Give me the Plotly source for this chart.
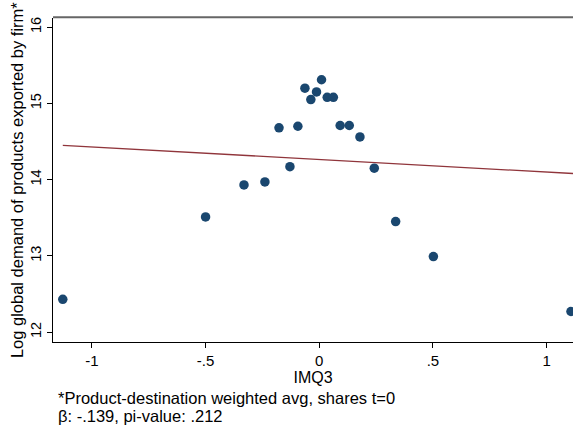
import plotly.graph_objects as go

# binned means (binscatter, 20 bins)
imq3 = [-1.128, -0.500, -0.331, -0.239, -0.177, -0.129, -0.094, -0.063, -0.037, -0.012,
        0.010, 0.035, 0.062, 0.092, 0.132, 0.179, 0.242, 0.336, 0.502, 1.107]
log_demand = [12.43, 13.51, 13.93, 13.97, 14.68, 14.17, 14.70, 15.20, 15.05, 15.15,
              15.31, 15.08, 15.08, 14.71, 14.71, 14.56, 14.15, 13.45, 12.99, 12.27]

# linear fit endpoints
fit_x = [-1.128, 1.116]
fit_y = [14.45, 14.08]

x_ticks = [-1, -0.5, 0, 0.5, 1]
x_labels = ['-1', '-.5', '0', '.5', '1']
y_ticks = [12, 13, 14, 15, 16]

navy = '#1a476f'
maroon = '#90353b'

fig = go.Figure()
fig.add_trace(go.Scatter(x=fit_x, y=fit_y, mode='lines',
                         line=dict(color=maroon, width=1.3), showlegend=False))
fig.add_trace(go.Scatter(x=imq3, y=log_demand, mode='markers',
                         marker=dict(color=navy, size=9.5), showlegend=False))

fig.update_layout(
    width=573, height=430,
    margin=dict(l=53, r=0, t=18, b=88),
    plot_bgcolor='white', paper_bgcolor='white',
    font=dict(family='Liberation Sans, Arial', size=15, color='black'),
    xaxis=dict(range=[-1.171, 1.116], tickvals=x_ticks, ticktext=x_labels,
               showgrid=False, zeroline=False, showline=True, linecolor='black',
               linewidth=1, ticks='outside', ticklen=5, tickcolor='black',
               automargin=False,
               title=dict(text='IMQ3', standoff=0, font=dict(size=16))),
    yaxis=dict(range=[11.87, 16.12], tickvals=y_ticks, tickangle=-90,
               tickfont=dict(size=14.5),
               showgrid=False, zeroline=False, showline=True, linecolor='black',
               linewidth=1, ticks='outside', ticklen=5, tickcolor='black',
               automargin=False),
)

# y title as rotated annotation so it can sit a bit closer to the tick labels
fig.add_annotation(text='Log global demand of products exported by firm*',
                   xref='paper', yref='paper', x=-0.069, y=0.5, textangle=-90,
                   xanchor='center', yanchor='middle', showarrow=False,
                   font=dict(size=16.5))

# top frame line (gray)
fig.add_shape(type='line', xref='paper', yref='paper', x0=0, x1=1, y0=1.002, y1=1.002,
              layer='above', line=dict(color='#666666', width=2))

notes = ['*Product-destination weighted avg, shares t=0', 'β: -.139, pi-value: .212']
for i, txt in enumerate(notes):
    fig.add_annotation(text=txt, xref='paper', yref='paper', x=0.006, y=-0.173 - 0.055 * i,
                       xanchor='left', yanchor='middle', showarrow=False,
                       font=dict(size=16.5))

# page body has a default 8px margin; remove it so the figure fills the window
fig.write_html("out.html", config={'displayModeBar': False},
               post_script="document.body.style.margin='0px';")
